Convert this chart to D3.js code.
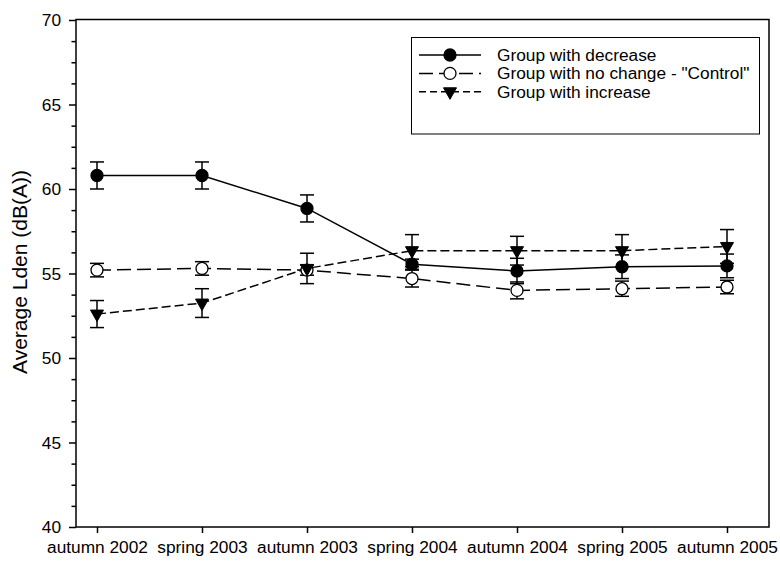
<!DOCTYPE html>
<meta charset="utf-8">
<style>
  html, body {
      margin: 0;
      padding: 0;
      background: #fff;
  }
  svg text {
      font-family: "Liberation Sans", Arial, sans-serif;
      fill: #000;
  }
  .frame {
      fill: none;
      stroke: #000;
      stroke-width: 1.5px;
  }
</style>
<body>
</body>
<script src="https://cdn.jsdelivr.net/npm/d3@7"></script>
<script>

  var width = 780;
  var height = 561;

  /* data */
  var seasons = ["autumn 2002", "spring 2003", "autumn 2003", "spring 2004",
                 "autumn 2004", "spring 2005", "autumn 2005"];

  var decrease    = [60.8, 60.8, 58.85, 55.55, 55.15, 55.4, 55.45];
  var decreaseErr = [0.8, 0.8, 0.8, 0.3, 0.75, 0.7, 0.7];

  var control     = [55.2, 55.3, 55.2, 54.7, 54.0, 54.1, 54.2];
  var controlErr  = [0.4, 0.4, 0.3, 0.5, 0.5, 0.45, 0.4];

  var increase    = [52.6, 53.25, 55.3, 56.35, 56.35, 56.35, 56.6];
  var increaseErr = [0.8, 0.85, 0.9, 0.95, 0.85, 0.95, 1.0];

  var yMajor = [40, 45, 50, 55, 60, 65, 70];

  var seriesNames = ["Group with decrease",
                     "Group with no change - \"Control\"",
                     "Group with increase"];

  /* build series table */
  var series = [
      {name: seriesNames[1], values: control,  err: controlErr,  marker: "open",     dash: "14,6"},
      {name: seriesNames[2], values: increase, err: increaseErr, marker: "triangle", dash: "9,4"},
      {name: seriesNames[0], values: decrease, err: decreaseErr, marker: "filled",   dash: null}
  ];

  var plot = {left: 76, right: 769, top: 19.5, bottom: 527};

  var svg = d3.select("body").append("svg")
      .attr("width", width)
      .attr("height", height);

  var x = d3.scalePoint()
      .domain(seasons)
      .range([97, 727]);

  var y = d3.scaleLinear()
      .domain([40, 70])
      .range([plot.bottom, 20]);

  /* minor y ticks */
  var yMinor = d3.range(40, 70.01, 1.25).filter(function(v) { return v % 5 !== 0; });

  svg.append("g")
      .attr("transform", "translate(" + plot.left + ",0)")
      .call(d3.axisLeft(y).tickValues(yMinor).tickSize(4.5).tickFormat(""))
      .call(function(g) { g.select(".domain").remove(); })
      .selectAll("line").attr("stroke-width", 1.5);

  var yAxis = svg.append("g")
      .attr("transform", "translate(" + plot.left + ",0)")
      .call(d3.axisLeft(y).tickValues(yMajor).tickSize(7).tickPadding(8).tickFormat(d3.format("d")));
  yAxis.select(".domain").remove();
  yAxis.selectAll("line").attr("stroke-width", 1.5);
  yAxis.selectAll("text")
      .style("font-size", "17.3px")
      .attr("font-family", null);

  var xAxis = svg.append("g")
      .attr("transform", "translate(0," + plot.bottom + ")")
      .call(d3.axisBottom(x).tickSize(6).tickPadding(8));
  xAxis.select(".domain").remove();
  xAxis.selectAll("line").attr("stroke-width", 1.5);
  xAxis.selectAll("text")
      .style("font-size", "17.3px")
      .attr("font-family", null);

  /* frame */
  svg.append("rect")
      .attr("class", "frame")
      .attr("x", plot.left)
      .attr("y", plot.top)
      .attr("width", plot.right - plot.left)
      .attr("height", plot.bottom - plot.top);

  /* y label */
  svg.append("text")
      .attr("transform", "translate(26.5," + 272 + ") rotate(-90)")
      .attr("text-anchor", "middle")
      .style("font-size", "21px")
      .text("Average Lden (dB(A))");

  var triPath = "M-6.5,-4 L6.5,-4 L0,7.5 Z";

  function drawMarker(sel, type) {
      if (type === "triangle") {
          sel.append("path")
              .attr("d", triPath)
              .attr("fill", "#000")
              .attr("stroke", "#000")
              .attr("stroke-width", 1);
      } else {
          sel.append("circle")
              .attr("r", 6)
              .attr("fill", type === "filled" ? "#000" : "#fff")
              .attr("stroke", "#000")
              .attr("stroke-width", 1.3);
      }
  }

  var line = d3.line()
      .x(function(d, i) { return x(seasons[i]); })
      .y(function(d) { return y(d); });

  series.forEach(function(s) {
      svg.append("path")
          .datum(s.values)
          .attr("d", line)
          .attr("fill", "none")
          .attr("stroke", "#000")
          .attr("stroke-width", 1.5)
          .attr("stroke-dasharray", s.dash);
  });

  series.forEach(function(s) {
      var g = svg.append("g");
      s.values.forEach(function(v, i) {
          var cx = x(seasons[i]);
          var hi = y(v + s.err[i]), lo = y(v - s.err[i]);
          var eb = g.append("g").attr("stroke", "#000").attr("stroke-width", 1.5);
          eb.append("line").attr("x1", cx).attr("x2", cx).attr("y1", hi).attr("y2", lo);
          eb.append("line").attr("x1", cx - 7).attr("x2", cx + 7).attr("y1", hi).attr("y2", hi);
          eb.append("line").attr("x1", cx - 7).attr("x2", cx + 7).attr("y1", lo).attr("y2", lo);
      });
  });

  series.forEach(function(s) {
      svg.append("g").selectAll("g")
          .data(s.values)
          .enter().append("g")
          .attr("transform", function(d, i) { return "translate(" + x(seasons[i]) + "," + y(d) + ")"; })
          .each(function() { drawMarker(d3.select(this), s.marker); });
  });

  /* legend */
  var legend = svg.append("g");
  legend.append("rect")
      .attr("x", 411.5)
      .attr("y", 37.5)
      .attr("width", 348)
      .attr("height", 96.5)
      .attr("fill", "#fff")
      .attr("stroke", "#000")
      .attr("stroke-width", 1);

  var legendOrder = [series[2], series[0], series[1]];
  legendOrder.forEach(function(s, i) {
      var cy = 55 + i * 18.4;
      var row = legend.append("g");
      row.append("line")
          .attr("x1", 419).attr("x2", 481)
          .attr("y1", cy).attr("y2", cy)
          .attr("stroke", "#000")
          .attr("stroke-width", 1.5)
          .attr("stroke-dasharray", s.dash ? (s.marker === "open" ? "14,6" : "7,4") : null);
      drawMarker(row.append("g").attr("transform", "translate(450," + cy + ")"), s.marker);
      row.append("text")
          .attr("x", 497)
          .attr("y", cy + 6)
          .style("font-size", "17.3px")
          .text(s.name);
  });

</script>
